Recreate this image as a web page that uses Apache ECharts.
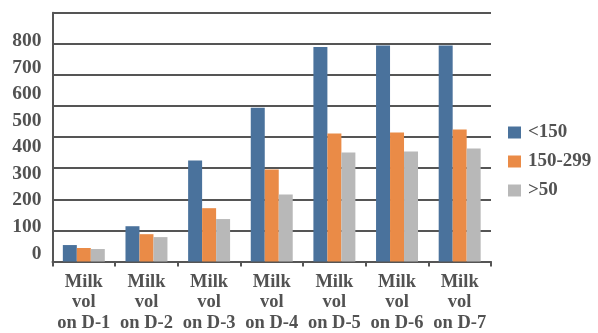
<!DOCTYPE html>
<html>
<head>
<meta charset="utf-8">
<script src="https://cdn.jsdelivr.net/npm/echarts@6/dist/echarts.min.js"></script>
<style>
html,body{margin:0;padding:0;background:#fff;}
#chart{width:598px;height:333px;}
</style>
</head>
<body>
<div id="chart"></div>
<script>
const categories = ["Milk\nvol\non D-1","Milk\nvol\non D-2","Milk\nvol\non D-3","Milk\nvol\non D-4","Milk\nvol\non D-5","Milk\nvol\non D-6","Milk\nvol\non D-7"];
const seriesNames = ["<150","150-299",">50"];
const lt150 = [62, 133, 381, 580, 809, 814, 814];
const mid150to299 = [51, 103, 201, 347, 483, 486, 498];
const gt50 = [47, 92, 160, 253, 411, 415, 426];
const yTickLabels = [0, 100, 200, 300, 400, 500, 600, 700, 800];

const colors = ["#4A729C", "#EA8B47", "#B8B8B8"];
const textColor = "#525252";
const font = "Liberation Serif";

const chart = echarts.init(document.getElementById('chart'), null, {renderer:'canvas'});
chart.setOption({
  animation:false,
  color: colors,
  grid:{left:52.5, right:107, top:12.7, bottom:70.5, containLabel:false},
  legend:{
    orient:'vertical', left:508, top:123, padding:0,
    icon:'rect', itemWidth:13, itemHeight:12, itemGap:10,
    textStyle:{fontFamily:font, fontSize:19, fontWeight:'bold', color:textColor, padding:[0,0,0,2]},
    data: seriesNames
  },
  xAxis:{
    type:'category', data:categories,
    axisLine:{show:true, lineStyle:{color:'#555', width:2}},
    axisTick:{show:true, length:5, lineStyle:{color:'#555', width:2}},
    axisLabel:{fontFamily:font, fontSize:18.5, fontWeight:'bold', color:textColor, lineHeight:20.5, margin:10, interval:0}
  },
  yAxis:[
    {
      type:'value', min:0, max:938, interval:100,
      splitLine:{show:false},
      axisLine:{show:true, lineStyle:{color:'#555', width:2}},
      axisTick:{show:false},
      axisLabel:{
        fontFamily:font, fontSize:19.5, fontWeight:'bold', color:textColor, margin:11,
        verticalAlign:'bottom', lineHeight:16,
        formatter:function(v){ return yTickLabels.indexOf(v) >= 0 ? String(v) : ''; }
      }
    },
    {
      type:'value', min:0, max:800, interval:100, position:'left',
      splitLine:{show:true, lineStyle:{color:'#555', width:2}},
      axisLine:{show:false}, axisTick:{show:false}, axisLabel:{show:false}
    }
  ],
  series:[
    {name:seriesNames[0], type:'bar', yAxisIndex:0, data:lt150, barGap:'0%', barCategoryGap:'33%'},
    {name:seriesNames[1], type:'bar', yAxisIndex:0, data:mid150to299, barGap:'0%', barCategoryGap:'33%'},
    {name:seriesNames[2], type:'bar', yAxisIndex:0, data:gt50, barGap:'0%', barCategoryGap:'33%'}
  ]
});
</script>
</body>
</html>
